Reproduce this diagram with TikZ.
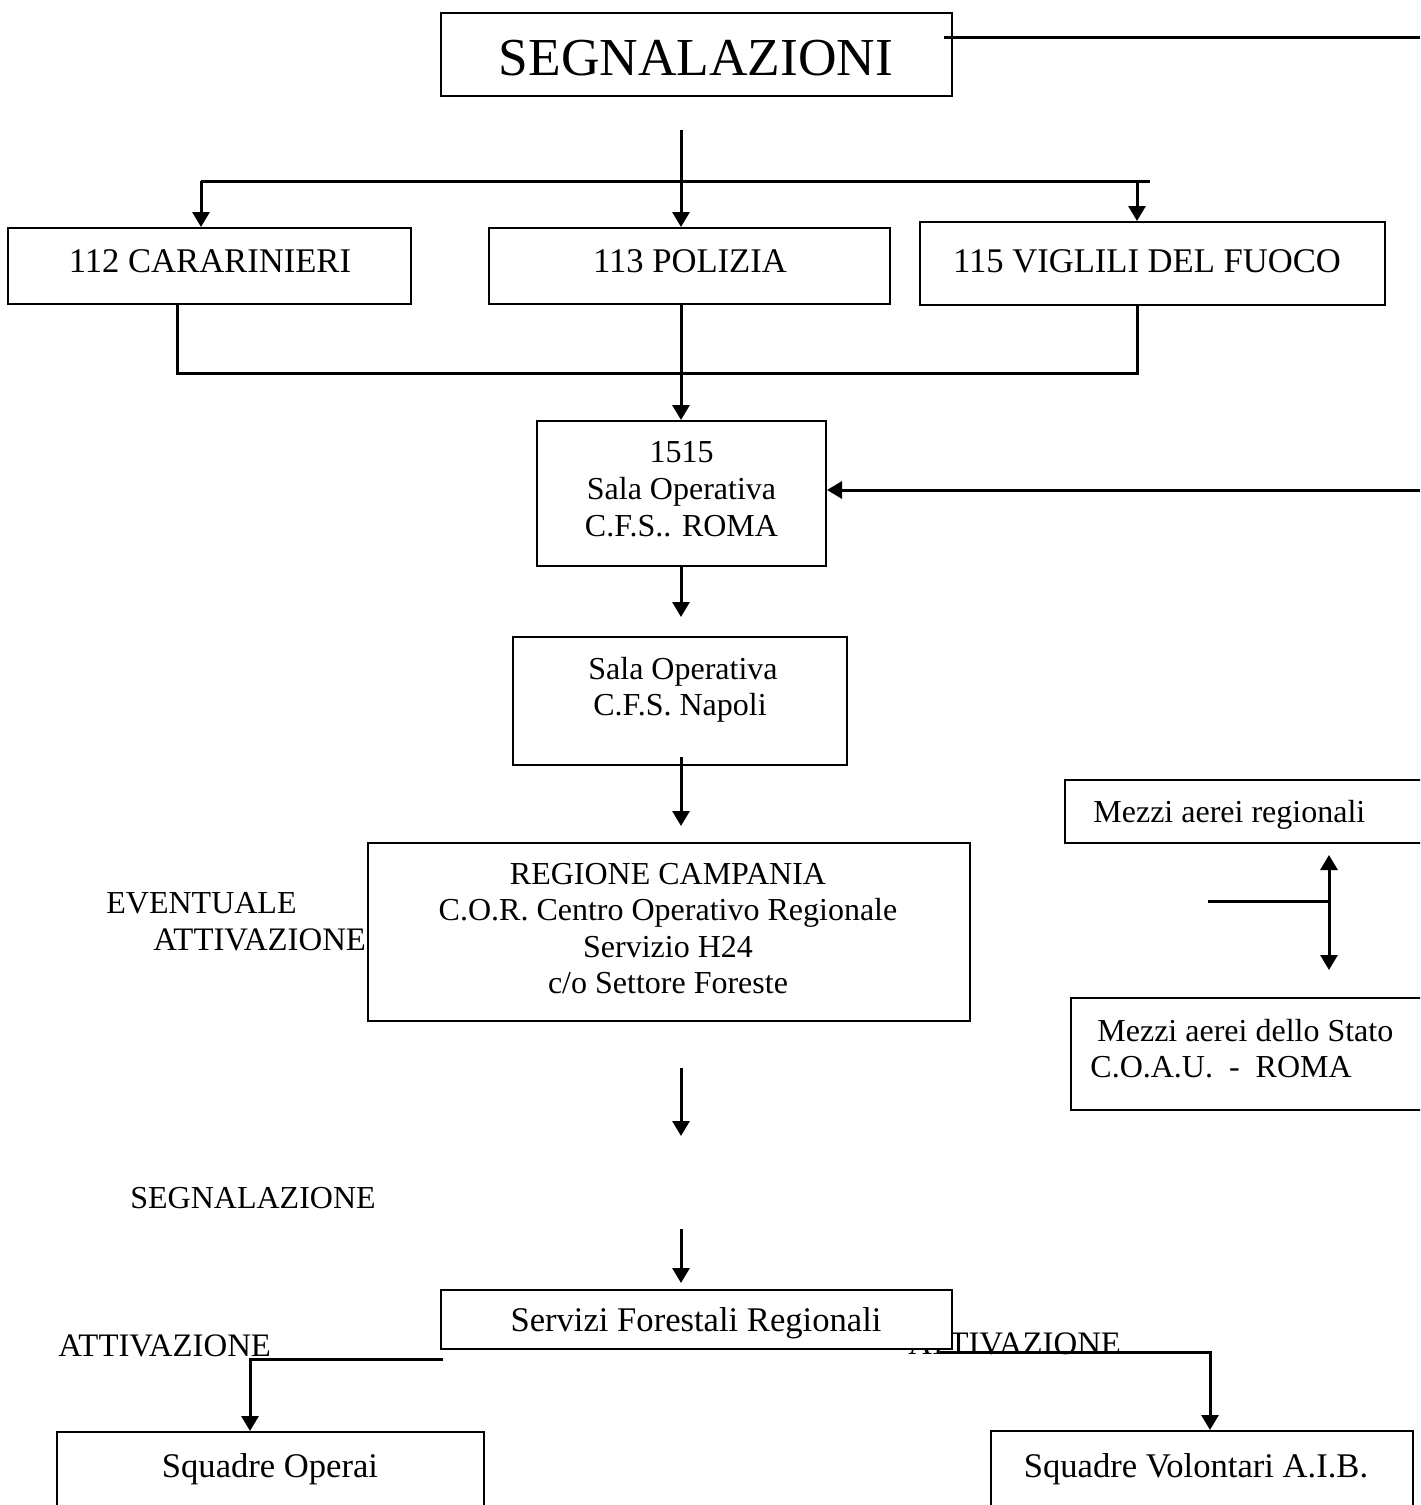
\documentclass[tikz,border=0pt]{standalone}
\usepackage{fontspec}
\setmainfont{Liberation Serif}
\usetikzlibrary{fit,arrows.meta}
\begin{document}
\begin{tikzpicture}[x=0.5pt,y=-0.5pt,
  box/.style={draw, line width=1pt, fill=white, inner sep=0pt},
  conn/.style={line width=1.5pt},
  arr/.style={conn, -{Triangle[length=7.5pt,width=8.5pt]}},
  darr/.style={conn, {Triangle[length=7.5pt,width=8.5pt]}-{Triangle[length=7.5pt,width=8.5pt]}},
  txt/.style={font=\fontsize{17.3}{20}\selectfont, inner sep=0pt, anchor=base},
  mtxt/.style={txt, font=\fontsize{16}{19}\selectfont},
  ltxt/.style={mtxt, anchor=base west},
  atxt/.style={txt, font=\fontsize{16.4}{19}\selectfont, anchor=base west},
  big/.style={font=\fontsize{26.7}{31}\selectfont, inner sep=0pt, anchor=base}]
\useasboundingbox (0,0) rectangle (1420,1505);
\clip (0,0) rectangle (1420,1505);

% boxes
\node[box, fit={(441,13) (952,96)}] (seg) {};
\node[box, fit={(8,228) (411,304)}] (c112) {};
\node[box, fit={(489,228) (890,304)}] (c113) {};
\node[box, fit={(920,222) (1385,305)}] (c115) {};
\node[box, fit={(537,421) (826,566)}] (roma) {};
\node[box, fit={(513,637) (847,765)}] (napoli) {};
\node[box, fit={(368,843) (970,1021)}] (reg) {};
\node[box, fit={(1065,780) (1440,843)}] (mreg) {};
\node[box, fit={(1071,998) (1440,1110)}] (mstato) {};
\node[box, fit={(57,1432) (484,1530)}] (operai) {};
\node[box, fit={(991,1431) (1413,1530)}] (volont) {};

% texts
\node[big] (tseg) at (696,75) {SEGNALAZIONI};
\node[txt] (t112) at (210,272) {112 CARARINIERI};
\node[txt] (t113) at (690,272) {113 POLIZIA};
\node[txt] (t115) at (1147,272) {115 VIGLILI DEL FUOCO};
\node[mtxt] (troma1) at (681.5,462) {1515};
\node[mtxt] (troma2) at (681.5,499) {Sala Operativa};
\node[mtxt] (troma3) at (681.5,536) {C.F.S.. ROMA};
\node[mtxt] (tnap1) at (683,679) {Sala Operativa};
\node[mtxt] (tnap2) at (680,715) {C.F.S. Napoli};
\node[mtxt] (treg1) at (668,884) {REGIONE CAMPANIA};
\node[mtxt] (treg2) at (668,920) {C.O.R. Centro Operativo Regionale};
\node[mtxt] (treg3) at (668,957) {Servizio H24};
\node[mtxt] (treg4) at (668,993) {c/o Settore Foreste};
\node[ltxt] (tev1) at (106,913) {EVENTUALE};
\node[atxt] (tev2) at (153,950) {ATTIVAZIONE};
\node[ltxt] (tmreg) at (1093,822) {Mezzi aerei regionali};
\node[ltxt] (tms1) at (1097,1041) {Mezzi aerei dello Stato};
\node[ltxt] (tms2) at (1090,1077) {C.O.A.U.\ \ -\ \ ROMA};
\node[ltxt] (tsegn) at (130,1208) {SEGNALAZIONE};
\node[atxt] (tatt1) at (58,1356) {ATTIVAZIONE};
\node[atxt] (tatt2) at (908,1354) {ATTIVAZIONE};
\node[box, fit={(441,1290) (952,1349)}] (serv) {};
\node[txt] (tserv) at (696,1331) {Servizi Forestali Regionali};
\node[txt] (toper) at (270,1477) {Squadre Operai};
\node[txt] (tvol) at (1196,1477) {Squadre Volontari A.I.B.};

% connectors
\coordinate (rt0) at (944,37);
\coordinate (rt1) at (1420,37);
\draw[conn] (rt0) -- (rt1);
\coordinate (t0) at (681,130);
\draw[arr] (t0) -- (t0 |- c113.north);
\coordinate (hL) at (201,181);
\coordinate (hR) at (1150,181);
\coordinate (hR2) at (1137,181);
\draw[conn] (hL) -- (hR);
\draw[arr] (hL) -- (hL |- c112.north);
\draw[arr] (hR2) -- (hR2 |- c115.north);
\coordinate (m1) at (177,373);
\coordinate (m2) at (1137,373);
\draw[conn] (m1 |- c112.south) -- (m1) -- (m2) -- (m2 |- c115.south);
\draw[arr] (t0 |- c113.south) -- (t0 |- roma.north);
\coordinate (rr) at (1420,490);
\draw[arr] (rr) -- (rr -| roma.east);
\coordinate (a1) at (681,617);
\draw[arr] (t0 |- roma.south) -- (a1);
\coordinate (a2s) at (681,757);
\coordinate (a2e) at (681,826);
\draw[arr] (a2s) -- (a2e);
\coordinate (d1) at (1329,855);
\coordinate (d2) at (1329,970);
\coordinate (d0) at (1208,901);
\draw[darr] (d1) -- (d2);
\draw[conn] (d0) -- (d0 -| d1);
\coordinate (a3s) at (681,1068);
\coordinate (a3e) at (681,1136);
\draw[arr] (a3s) -- (a3e);
\coordinate (a4s) at (681,1229);
\coordinate (a4e) at (681,1283);
\draw[arr] (a4s) -- (a4e);
\coordinate (lA) at (443,1359);
\coordinate (lB) at (250,1359);
\draw[arr] (lA) -- (lB) -- (lB |- operai.north);
\coordinate (rA) at (940,1352);
\coordinate (rB) at (1210,1352);
\draw[arr] (rA) -- (rB) -- (rB |- volont.north);
\end{tikzpicture}
\end{document}
